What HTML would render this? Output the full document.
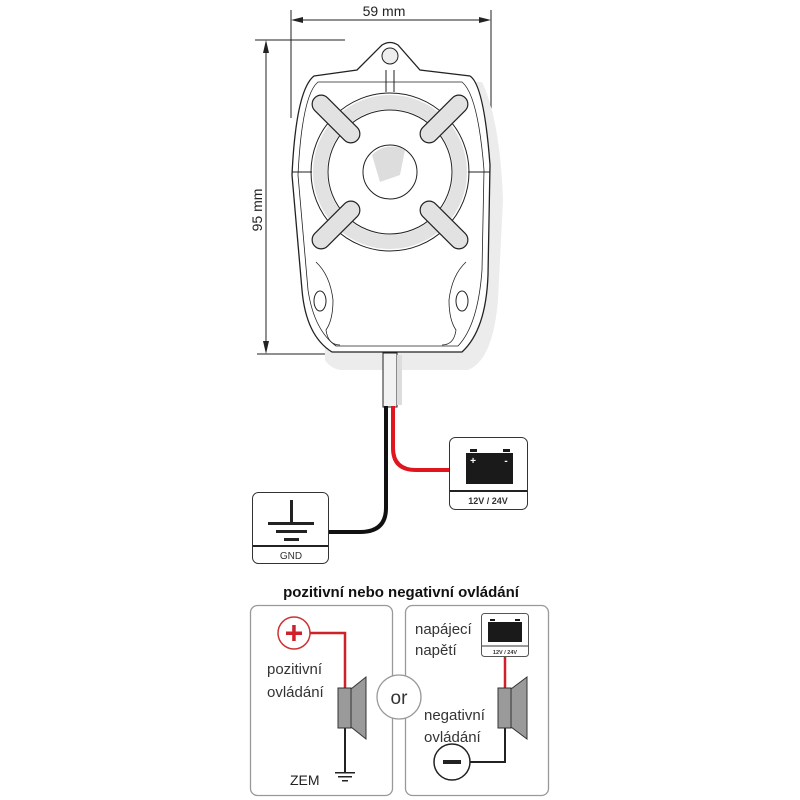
<!DOCTYPE html>
<html><head><meta charset="utf-8"><style>
html,body{margin:0;padding:0;background:#fff;width:800px;height:800px;overflow:hidden}
svg{display:block}
text{font-family:"Liberation Sans",sans-serif}
</style></head><body>
<svg width="800" height="800" viewBox="0 0 800 800" xmlns="http://www.w3.org/2000/svg">
<g stroke="#222" stroke-width="1" fill="none">
<line x1="291" y1="10" x2="291" y2="118"/>
<line x1="491" y1="10" x2="491" y2="118"/>
<line x1="297" y1="20" x2="485" y2="20"/>
<line x1="255" y1="40" x2="345" y2="40"/>
<line x1="257" y1="354" x2="331" y2="354"/>
<line x1="266" y1="48" x2="266" y2="346"/>
</g>
<g fill="#222">
<polygon points="291,20 303,17 303,23"/>
<polygon points="491,20 479,17 479,23"/>
<polygon points="266,40 263,53 269,53"/>
<polygon points="266,354 263,341 269,341"/>
</g>
<text x="384" y="16" font-size="14" text-anchor="middle" fill="#222">59 mm</text>
<text transform="translate(262,210) rotate(-90)" font-size="14" text-anchor="middle" fill="#222">95 mm</text>

<path d="M322,82 L482,82 Q500,120 503,200 L498,300 Q493,360 468,370 L340,370 Q330,368 325,360 Z" fill="#ececec"/>
<path d="M314,76 L357,70 L382,45 Q390,40 398,45 L420,70 L470,76 Q484,85 490,165 L488,275 Q486,330 462,352 L332,352 Q306,336 302,290 L292,175 Q296,90 314,76 Z" fill="#fff" stroke="#222" stroke-width="1.3"/>
<path d="M318,82 L462,82 Q478,95 484,170 L482,270 Q478,325 458,346 L336,346 Q314,330 308,290 L298,175 Q302,95 318,82 Z" fill="none" stroke="#222" stroke-width="0.8"/>
<circle cx="390" cy="56" r="8" fill="#eee" stroke="#222"/>
<line x1="386" y1="70" x2="386" y2="92" stroke="#222"/>
<line x1="394" y1="70" x2="394" y2="92" stroke="#222"/>
<circle cx="390" cy="172" r="70" fill="none" stroke="#e2e2e2" stroke-width="14"/>
<circle cx="390" cy="172" r="79" fill="none" stroke="#222" stroke-width="1"/>
<circle cx="390" cy="172" r="62" fill="#fff" stroke="#222" stroke-width="1"/>
<g fill="#e2e2e2" stroke="#222" stroke-width="1.2">
<rect x="306" y="110" width="60" height="18" rx="9" transform="rotate(45 336 119)"/>
<rect x="414" y="110" width="60" height="18" rx="9" transform="rotate(-45 444 119)"/>
<rect x="306" y="216" width="60" height="18" rx="9" transform="rotate(-45 336 225)"/>
<rect x="414" y="216" width="60" height="18" rx="9" transform="rotate(45 444 225)"/>
</g>
<line x1="292" y1="172" x2="312" y2="172" stroke="#222"/>
<line x1="468" y1="172" x2="490" y2="172" stroke="#222"/>
<path d="M372,155 A27,27 0 0 1 405,150 L400,175 L380,182 Z" fill="#ddd"/>
<circle cx="390" cy="172" r="27" fill="none" stroke="#222"/>
<ellipse cx="320" cy="301" rx="6" ry="10" fill="#fff" stroke="#222"/>
<ellipse cx="462" cy="301" rx="6" ry="10" fill="#fff" stroke="#222"/>
<path d="M316,262 Q330,275 333,300 Q333,320 326,330 Q328,345 340,345" fill="none" stroke="#222" stroke-width="0.8"/>
<path d="M466,262 Q452,275 449,300 Q449,320 456,330 Q454,345 442,345" fill="none" stroke="#222" stroke-width="0.8"/>

<rect x="383" y="353" width="14" height="54" fill="#f2f2f2" stroke="#222"/>
<rect x="397" y="355" width="5" height="50" fill="#ddd"/>
<path d="M386,406 L386,508 Q386,532 360,532 L328,532" fill="none" stroke="#111" stroke-width="4"/>
<path d="M393,406 L393,448 Q393,470 416,470 L450,470" fill="none" stroke="#e0161e" stroke-width="4"/>

<rect x="449.5" y="437.5" width="78" height="72" rx="6" fill="#fff" stroke="#333"/>
<line x1="450" y1="491" x2="527" y2="491" stroke="#222" stroke-width="2"/>
<rect x="466" y="453" width="47" height="31" fill="#1a1a1a"/>
<rect x="470" y="449" width="7" height="3" fill="#1a1a1a"/>
<rect x="503" y="449" width="7" height="3" fill="#1a1a1a"/>
<text x="473" y="464" font-size="10" font-weight="bold" fill="#fff" text-anchor="middle">+</text>
<text x="506" y="464" font-size="10" font-weight="bold" fill="#fff" text-anchor="middle">-</text>
<text x="488" y="504" font-size="9" font-weight="bold" fill="#333" text-anchor="middle">12V / 24V</text>

<rect x="252.5" y="492.5" width="76" height="71" rx="6" fill="#fff" stroke="#333"/>
<line x1="253" y1="546" x2="328" y2="546" stroke="#222" stroke-width="2"/>
<g fill="#222">
<rect x="290" y="500" width="3" height="23"/>
<rect x="268" y="522" width="46" height="3"/>
<rect x="276" y="530" width="31" height="3"/>
<rect x="284" y="538" width="15" height="3"/>
</g>
<text x="291" y="559" font-size="10" fill="#333" text-anchor="middle">GND</text>

<text x="401" y="597" font-size="15" font-weight="bold" fill="#111" text-anchor="middle">pozitivní nebo negativní ovládání</text>
<rect x="250.5" y="605.5" width="142" height="190" rx="7" fill="#fff" stroke="#999" stroke-width="1.3"/>
<rect x="405.5" y="605.5" width="143" height="190" rx="7" fill="#fff" stroke="#999" stroke-width="1.3"/>
<circle cx="399" cy="697" r="22" fill="#fff" stroke="#999" stroke-width="1.3"/>
<text x="399" y="704" font-size="19" fill="#333" text-anchor="middle">or</text>

<circle cx="294" cy="633" r="16" fill="#fff" stroke="#c33" stroke-width="1.5"/>
<rect x="286" y="631.5" width="16" height="3.5" fill="#d0202a"/>
<rect x="292.2" y="625" width="3.5" height="16" fill="#d0202a"/>
<path d="M310,633 L345,633 L345,689" fill="none" stroke="#d0202a" stroke-width="2.5"/>
<line x1="345" y1="727" x2="345" y2="772" stroke="#222" stroke-width="2"/>
<rect x="338" y="688" width="13" height="40" fill="#9a9a9a" stroke="#333"/>
<polygon points="351,689 366,677 366,739 351,727" fill="#9a9a9a" stroke="#333"/>
<g fill="#222">
<rect x="335" y="772" width="20" height="1.5"/>
<rect x="338" y="776" width="14" height="1.5"/>
<rect x="342" y="780" width="6" height="1.5"/>
</g>
<text x="290" y="785" font-size="14" fill="#222">ZEM</text>
<text x="267" y="674" font-size="15" fill="#333">pozitivní</text>
<text x="267" y="697" font-size="15" fill="#333">ovládání</text>

<rect x="481.5" y="613.5" width="47" height="43" rx="3" fill="#fff" stroke="#555"/>
<rect x="488" y="622" width="34" height="20" fill="#1a1a1a"/>
<rect x="490" y="619" width="5" height="2" fill="#1a1a1a"/>
<rect x="515" y="619" width="5" height="2" fill="#1a1a1a"/>
<line x1="482" y1="646" x2="528" y2="646" stroke="#333"/>
<text x="505" y="654" font-size="5.5" font-weight="bold" fill="#333" text-anchor="middle">12V / 24V</text>
<text x="415" y="634" font-size="15" fill="#333">napájecí</text>
<text x="415" y="655" font-size="15" fill="#333">napětí</text>
<line x1="505" y1="657" x2="505" y2="689" stroke="#d0202a" stroke-width="2.5"/>
<path d="M505,727 L505,762 L470,762" fill="none" stroke="#222" stroke-width="2"/>
<rect x="498" y="688" width="13" height="40" fill="#9a9a9a" stroke="#333"/>
<polygon points="511,689 527,677 527,739 511,727" fill="#9a9a9a" stroke="#333"/>
<circle cx="452" cy="762" r="18" fill="#fff" stroke="#222" stroke-width="1.5"/>
<rect x="443" y="760" width="18" height="4" fill="#222"/>
<text x="424" y="720" font-size="15" fill="#333">negativní</text>
<text x="424" y="742" font-size="15" fill="#333">ovládání</text>
</svg>
</body></html>
